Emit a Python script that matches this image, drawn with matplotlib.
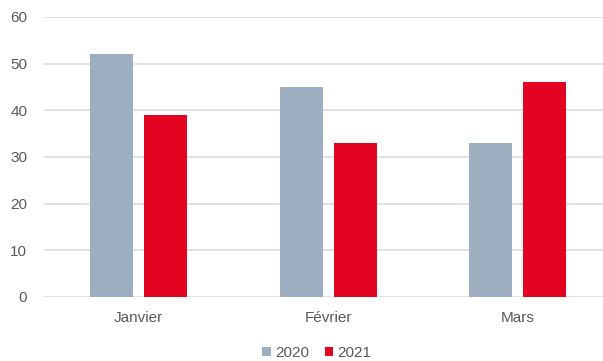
import matplotlib.pyplot as plt
import numpy as np

plt.rcParams['font.family'] = ['Liberation Sans', 'DejaVu Sans']

months = ['Janvier', 'Février', 'Mars']
vals_2020 = [52, 45, 33]
vals_2021 = [39, 33, 46]

c2020 = '#9caebf'
c2021 = '#e20421'
txt = '#595959'

fig = plt.figure(figsize=(6.03, 3.61), dpi=100)
ax = fig.add_axes([44 / 603, 64 / 361, 559 / 603, 280 / 361])

x = np.arange(len(months))
w = 0.227
off = 0.1425
ax.bar(x - off, vals_2020, w, color=c2020, label='2020', zorder=3)
ax.bar(x + off, vals_2021, w, color=c2021, label='2021', zorder=3)

ax.set_ylim(0, 60)
ax.set_xlim(-0.5, -0.5 + 559 / 189.5)
ax.set_yticks(range(0, 61, 10))
ax.set_xticks(x)
ax.set_xticklabels(months)
ax.grid(axis='y', color='#dcdcdc', linewidth=1.2, zorder=0)
for s in ax.spines.values():
    s.set_visible(False)
ax.tick_params(length=0, colors=txt, labelsize=11)
ax.tick_params(axis='y', pad=12)
ax.tick_params(axis='x', pad=10)

fig.legend(loc='lower center', bbox_to_anchor=(317 / 603, -0.035), ncol=2, frameon=False,
           fontsize=11, labelcolor=txt, handlelength=0.55, handleheight=0.55,
           handletextpad=0.3, columnspacing=1.0)

fig.savefig('out.png', dpi=100)
